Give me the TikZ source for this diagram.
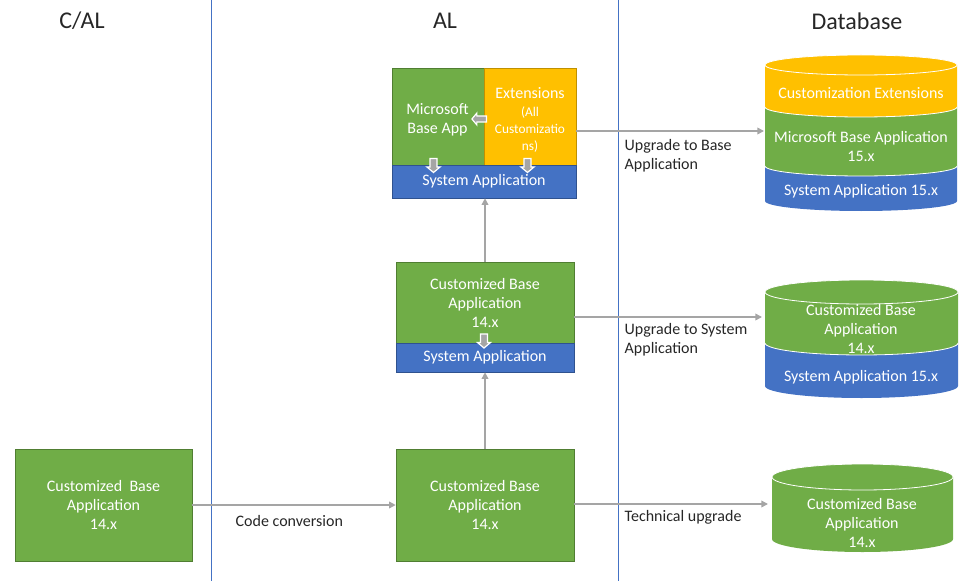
\documentclass[tikz,border=0pt]{standalone}
\usepackage{fontspec}
\setmainfont{Carlito}
\usetikzlibrary{arrows.meta,shapes.arrows}

\definecolor{appgreen}{HTML}{70AD47}
\definecolor{greenline}{HTML}{507E32}
\definecolor{extyellow}{HTML}{FFC000}
\definecolor{yellowline}{HTML}{BF9000}
\definecolor{sysblue}{HTML}{4472C4}
\definecolor{blueline}{HTML}{2F528F}
\definecolor{flowgray}{HTML}{A5A5A5}
\definecolor{labelblack}{HTML}{262626}

\tikzset{
  boxfont/.style={font=\fontsize{12}{14.25}\selectfont},
  greenbox/.style={draw=greenline, fill=appgreen, text=white, align=center, inner sep=0pt, boxfont},
  yellowbox/.style={draw=yellowline, fill=extyellow, text=white, align=center, inner sep=0pt, boxfont},
  bluebox/.style={draw=blueline, fill=sysblue, text=white, align=center, inner sep=0pt, boxfont},
  flow/.style={draw=flowgray, line width=1.1pt, -{Triangle[length=5pt,width=5pt]}},
  blockarrow/.style={single arrow, draw=white, fill=flowgray, line width=0.9pt,
    single arrow head extend=2.2pt, single arrow tip angle=100},
  downarrow/.style={blockarrow, shape border rotate=270, inner xsep=2.2pt, inner ysep=0pt, minimum height=10.5pt},
  leftarrow/.style={blockarrow, shape border rotate=180, inner xsep=0pt, inner ysep=1.8pt, minimum height=11pt},
  lbl/.style={anchor=west, align=left, text=labelblack, boxfont},
  heading/.style={text=labelblack, font=\fontsize{18}{22}\selectfont},
  dbtext/.style={text=white, align=center, boxfont}
}

\begin{document}
\begin{tikzpicture}[x=0.75pt,y=0.75pt]
\useasboundingbox (0,0) rectangle (970,-581);

% column separators
\draw[sysblue, line width=0.75pt] (211,0) -- (211,-581);
\draw[sysblue, line width=0.75pt] (618,0) -- (618,-581);

% headings
\node[heading] (hcal) at (82,-21) {C/AL};
\node[heading] (hal) at (445,-21) {AL};
\node[heading] (hdb) at (857,-21) {Database};

% C/AL column
\node[greenbox, minimum width=132.75pt, minimum height=84pt] (calbase) at (103.5,-505) {Customized\ \ Base\\Application\\14.x};

% AL column, bottom
\node[greenbox, minimum width=133.5pt, minimum height=84pt] (alstart) at (485,-505) {Customized Base\\Application\\14.x};

% AL column, middle
\node[greenbox, minimum width=133.5pt, minimum height=60.75pt] (midbase) at (485,-302.5) {};
\node[dbtext] (midtext) at (485,-303) {Customized Base\\Application\\14.x};
\node[bluebox, minimum width=133.5pt, minimum height=21.75pt] (midsys) at (485,-357.5) {System Application};
\node[downarrow] (middown) at (484,-339.5) {};

% AL column, top
\node[greenbox, minimum width=69pt, minimum height=72.75pt] (msbase) at (438,-116.5) {};
\node[dbtext] (mstext) at (437.5,-119.5) {Microsoft\\Base App};
\node[yellowbox, minimum width=69pt, minimum height=72.75pt] (ext) at (530,-116.5) {};
\node[text=white, boxfont] (extlbl) at (530,-93) {Extensions};
\node[text=white, align=center, font=\fontsize{10}{12.75}\selectfont] (extsub) at (530,-130) {(All\\Customizatio\\ns)};
\node[bluebox, minimum width=138pt, minimum height=24.75pt] (topsys) at (484,-181.5) {System Application};
\node[leftarrow] (extleft) at (480.5,-119) {};
\node[downarrow] (msdown) at (433.5,-164) {};
\node[downarrow] (extdown) at (527.5,-164) {};

% database, top cylinder
\fill[sysblue] (765,-166) -- (765,-201) arc (180:360:96 and 10) -- (957,-166) arc (0:180:96 and 10) -- cycle;
\fill[appgreen] (765,-107) -- (765,-166) arc (180:360:96 and 10) -- (957,-107) arc (0:180:96 and 10) -- cycle;
\fill[extyellow] (765,-65) -- (765,-107) arc (180:360:96 and 10) -- (957,-65) arc (0:180:96 and 10) -- cycle;
\draw[white, line width=0.6pt] (861,-65) ellipse (96 and 10);
\draw[white, line width=0.6pt] (765,-107) arc (180:360:96 and 10);
\draw[white, line width=0.6pt] (765,-166) arc (180:360:96 and 10);
\node[dbtext] (dbext) at (861,-93) {Customization Extensions};
\node[dbtext] (dbms) at (861,-147) {Microsoft Base Application\\15.x};
\node[dbtext] (dbsys) at (861,-191) {System Application 15.x};

% database, middle cylinder
\fill[sysblue] (765,-343) -- (765,-386) arc (180:360:96.5 and 12) -- (958,-343) arc (0:180:96.5 and 12) -- cycle;
\fill[appgreen] (765,-292) -- (765,-343) arc (180:360:96.5 and 12) -- (958,-292) arc (0:180:96.5 and 12) -- cycle;
\draw[white, line width=0.6pt] (861.5,-292) ellipse (96.5 and 12);
\draw[white, line width=0.6pt] (765,-343) arc (180:360:96.5 and 12);
\node[dbtext] (dbcust) at (861,-329) {Customized Base\\Application\\14.x};
\node[dbtext] (dbsys2) at (861,-377) {System Application 15.x};

% database, bottom cylinder
\fill[appgreen] (772,-477) -- (772,-539) arc (180:360:90.5 and 13) -- (953,-477) arc (0:180:90.5 and 13) -- cycle;
\draw[white, line width=0.6pt] (862.5,-477) ellipse (90.5 and 13);
\node[dbtext] (dbcust2) at (862,-523) {Customized Base\\Application\\14.x};

% arrow ends at the cylinders
\coordinate (dbtop) at (764,-131);
\coordinate (dbmid) at (762,-317);
\coordinate (dbbot) at (768,-504);

% connectors
\draw[flow] (calbase.east) -- (alstart.west);
\draw[flow] (alstart.north) -- (midsys.south);
\draw[flow] (midbase.north) -- (midbase.north |- topsys.south);
\draw[flow] (ext.east |- dbtop) -- (dbtop);
\draw[flow] (midbase.east |- dbmid) -- (dbmid);
\draw[flow] (alstart.east |- dbbot) -- (dbbot);

% connector labels
\node[lbl] (lblconv) at (231,-521) {Code conversion};
\node[lbl] (lblbase) at (620,-155.5) {Upgrade to Base\\Application};
\node[lbl] (lblsys) at (620,-339.5) {Upgrade to System\\Application};
\node[lbl] (lbltech) at (620,-517) {Technical upgrade};
\end{tikzpicture}
\end{document}
